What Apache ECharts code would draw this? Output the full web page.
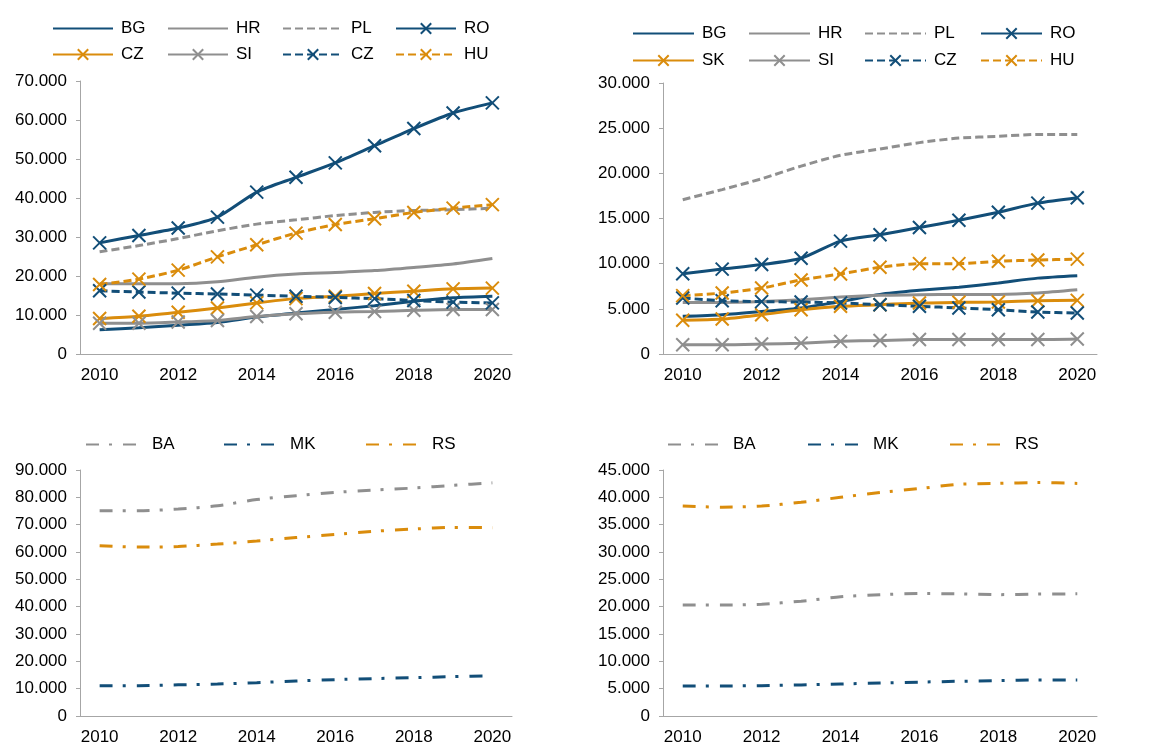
<!DOCTYPE html>
<html>
<head>
<meta charset="utf-8">
<script src="https://cdn.jsdelivr.net/npm/echarts@6/dist/echarts.min.js"></script>
<style>
  html, body { margin: 0; padding: 0; background: #fff; }
  #chart { width: 1154px; height: 749px; }
</style>
</head>
<body>
<div id="chart"></div>
<script>
// x categories
const years = ['2010', '2011', '2012', '2013', '2014', '2015', '2016', '2017', '2018', '2019', '2020'];

// top left panel
const tlLabels = ['BG', 'HR', 'PL', 'RO', 'CZ', 'SI', 'CZ', 'HU'];
const tlBG = [6200, 6700, 7400, 8100, 9500, 10500, 11400, 12400, 13500, 14400, 14800];
const tlHR = [18000, 18000, 18000, 18500, 19700, 20500, 20900, 21400, 22200, 23100, 24500];
const tlPL = [26200, 27800, 29600, 31600, 33300, 34400, 35500, 36300, 36800, 37000, 37400];
const tlRO = [28500, 30400, 32300, 35100, 41500, 45300, 49000, 53400, 57800, 61800, 64400];
const tlCZa = [9100, 9700, 10700, 11800, 13100, 14200, 14800, 15500, 16100, 16700, 16900];
const tlSI = [7900, 7900, 8200, 8600, 9600, 10300, 10700, 10900, 11200, 11400, 11400];
const tlCZb = [16200, 15900, 15600, 15400, 15100, 14800, 14500, 14200, 13700, 13300, 13100];
const tlHU = [17800, 19200, 21500, 24900, 28000, 31000, 33200, 34700, 36300, 37400, 38300];

// top right panel
const trLabels = ['BG', 'HR', 'PL', 'RO', 'SK', 'SI', 'CZ', 'HU'];
const trBG = [4170, 4350, 4700, 5100, 5800, 6600, 7050, 7400, 7860, 8400, 8670];
const trHR = [5700, 5700, 5800, 6000, 6300, 6500, 6550, 6600, 6600, 6750, 7100];
const trPL = [17080, 18200, 19400, 20800, 22000, 22700, 23400, 23900, 24100, 24300, 24300];
const trRO = [8890, 9400, 9900, 10600, 12500, 13200, 14000, 14800, 15700, 16700, 17300];
const trSK = [3730, 3870, 4350, 4900, 5280, 5460, 5650, 5720, 5760, 5900, 5940];
const trSI = [1030, 1030, 1100, 1200, 1400, 1500, 1600, 1600, 1600, 1600, 1660];
const trCZ = [6200, 5900, 5800, 5750, 5650, 5460, 5280, 5100, 4900, 4650, 4540];
const trHU = [6460, 6750, 7300, 8200, 8860, 9600, 10000, 10000, 10260, 10400, 10500];

// bottom panels
const bLabels = ['BA', 'MK', 'RS'];
const blBA = [75100, 75100, 75700, 76900, 79200, 80600, 81800, 82700, 83400, 84400, 85300];
const blMK = [11100, 11100, 11400, 11700, 12200, 12800, 13300, 13700, 14000, 14400, 14650];
const blRS = [62300, 61800, 62000, 62900, 64000, 65300, 66400, 67600, 68400, 69000, 68900];
const brBA = [20300, 20300, 20450, 21000, 21800, 22200, 22400, 22350, 22200, 22300, 22350];
const brMK = [5500, 5500, 5550, 5680, 5860, 6040, 6200, 6350, 6470, 6600, 6600];
const brRS = [38400, 38200, 38400, 39100, 40000, 40900, 41600, 42400, 42550, 42700, 42550];

const BLUE = '#124e78';
const ORANGE = '#da8c0c';
const GRAY = '#8f8f8f';
const AXIS = '#a6a6a6';
const FONT = 'Liberation Sans, Arial, sans-serif';
const CROSS = 'path://M0,0L10,10M10,0L0,10';
const DASH = [8, 4];
const DASHDOT = [13, 10, 3, 11];

function fmt (v) {
    return String(v).replace(/\B(?=(\d{3})+(?!\d))/g, '.');
}

// one line series
function mk (id, idx, label, data, color, dash, marker) {
    return {
        type: 'line',
        name: id + ':' + label,
        xAxisIndex: idx,
        yAxisIndex: idx,
        data: data,
        smooth: 0.25,
        symbol: marker ? CROSS : 'none',
        symbolSize: 13,
        showSymbol: !!marker,
        itemStyle: { color: color, borderColor: color, borderWidth: 2 },
        lineStyle: { color: color, width: 3, type: dash || 'solid' },
        emphasis: { disabled: true }
    }
}

const grids = [
    { left: 80, right: 642, top: 81, bottom: 395 },
    { left: 663, right: 57, top: 83, bottom: 395 },
    { left: 80, right: 642, top: 470, bottom: 33 },
    { left: 663, right: 57, top: 470, bottom: 33 }
];
const yMax = [70000, 30000, 90000, 45000];
const yStep = [10000, 5000, 10000, 5000];

const xAxis = [];
const yAxis = [];
grids.forEach(function (g, i) {
    xAxis.push({
        type: 'category',
        gridIndex: i,
        data: years,
        boundaryGap: true,
        axisLine: { lineStyle: { color: AXIS, width: 1 } },
        axisTick: { show: false },
        axisLabel: { interval: 1, color: '#000', fontSize: 17, fontFamily: FONT, margin: 13 }
    });
    yAxis.push({
        type: 'value',
        gridIndex: i,
        min: 0,
        max: yMax[i],
        interval: yStep[i],
        splitLine: { show: false },
        axisLine: { show: true, lineStyle: { color: AXIS, width: 1 } },
        axisTick: { show: true, length: 4, lineStyle: { color: AXIS } },
        axisLabel: { color: '#000', fontSize: 17, fontFamily: FONT, margin: 13, formatter: fmt }
    });
});

const series = [
    mk('a', 0, tlLabels[0], tlBG, BLUE),
    mk('a', 0, tlLabels[1], tlHR, GRAY),
    mk('a', 0, tlLabels[2], tlPL, GRAY, DASH),
    mk('a', 0, tlLabels[3], tlRO, BLUE, null, true),
    mk('a', 0, tlLabels[4] + '1', tlCZa, ORANGE, null, true),
    mk('a', 0, tlLabels[5], tlSI, GRAY, null, true),
    mk('a', 0, tlLabels[6] + '2', tlCZb, BLUE, DASH, true),
    mk('a', 0, tlLabels[7], tlHU, ORANGE, DASH, true),

    mk('b', 1, trLabels[0], trBG, BLUE),
    mk('b', 1, trLabels[1], trHR, GRAY),
    mk('b', 1, trLabels[2], trPL, GRAY, DASH),
    mk('b', 1, trLabels[3], trRO, BLUE, null, true),
    mk('b', 1, trLabels[4], trSK, ORANGE, null, true),
    mk('b', 1, trLabels[5], trSI, GRAY, null, true),
    mk('b', 1, trLabels[6], trCZ, BLUE, DASH, true),
    mk('b', 1, trLabels[7], trHU, ORANGE, DASH, true),

    mk('c', 2, bLabels[0], blBA, GRAY, DASHDOT),
    mk('c', 2, bLabels[1], blMK, BLUE, DASHDOT),
    mk('c', 2, bLabels[2], blRS, ORANGE, DASHDOT),

    mk('d', 3, bLabels[0], brBA, GRAY, DASHDOT),
    mk('d', 3, bLabels[1], brMK, BLUE, DASHDOT),
    mk('d', 3, bLabels[2], brRS, ORANGE, DASHDOT)
];

// one small legend per entry, laid out on a fixed column grid like the original
function legendFor (prefix, cols, rows, itemW) {
    const list = series.filter(function (s) { return s.name.indexOf(prefix + ':') === 0 });
    return list.map(function (s, k) {
        const item = { name: s.name };
        if (s.symbol === 'none') item.itemStyle = { opacity: 0 };
        return {
            data: [item],
            left: cols[k % cols.length],
            top: rows[Math.floor(k / cols.length)],
            itemWidth: itemW,
            itemHeight: 13,
            padding: 0,
            selectedMode: false,
            formatter: function (n) { return n.split(':')[1].replace(/[12]$/, '') },
            textStyle: { color: '#000', fontSize: 17, fontFamily: FONT, padding: [0, 0, 0, 3] }
        }
    });
}

const legend = [].concat(
    legendFor('a', [52, 167, 282, 395], [20, 46], 60),
    legendFor('b', [632, 748, 864, 980], [25, 52], 61),
    legendFor('c', [85, 223, 365], [436], 58),
    legendFor('d', [667, 807, 949], [436], 57)
);

const chart = echarts.init(document.getElementById('chart'));
chart.setOption({
    animation: false,
    backgroundColor: '#fff',
    textStyle: { fontFamily: FONT },
    grid: grids,
    xAxis: xAxis,
    yAxis: yAxis,
    legend: legend,
    series: series
});
</script>
</body>
</html>
